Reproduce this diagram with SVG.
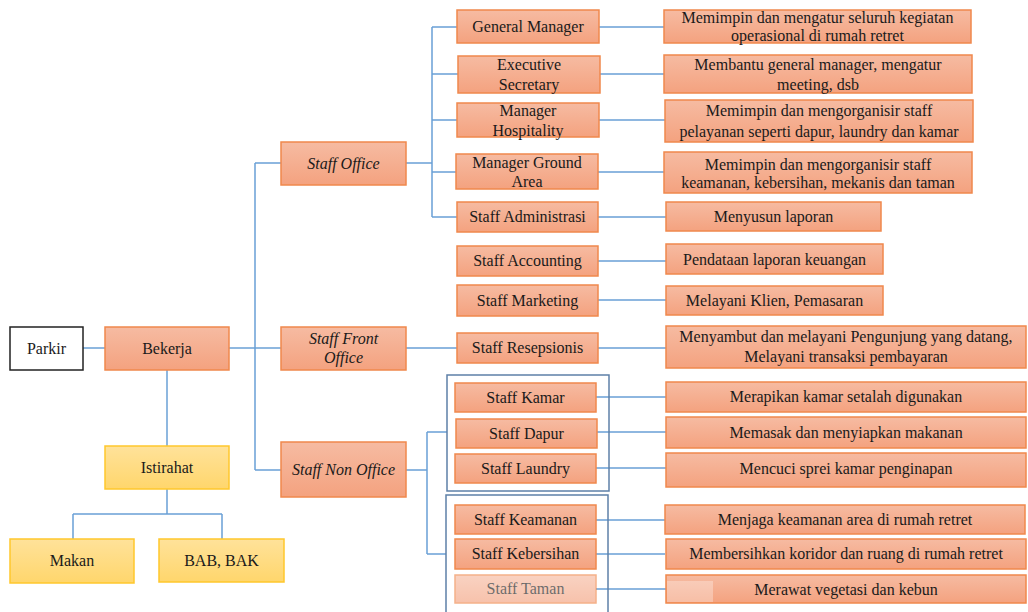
<svg xmlns="http://www.w3.org/2000/svg" width="1028" height="612" viewBox="0 0 1028 612" font-family="Liberation Serif, DejaVu Serif, Times New Roman, serif">
  <defs>
    <linearGradient id="gOrange" x1="0" y1="0" x2="0" y2="1">
      <stop offset="0" stop-color="#F6BBA2"/>
      <stop offset="1" stop-color="#F4A27F"/>
    </linearGradient>
    <linearGradient id="gYellow" x1="0" y1="0" x2="0" y2="1">
      <stop offset="0" stop-color="#FFE29A"/>
      <stop offset="1" stop-color="#FFD66C"/>
    </linearGradient>
    <style>
      .box { fill: url(#gOrange); stroke: #F0884C; stroke-width: 1.5; }
      .ybox { fill: url(#gYellow); stroke: #FFC72C; stroke-width: 1.5; }
      .wbox { fill: #FFFFFF; stroke: #222222; stroke-width: 1.5; }
      .grp { fill: none; stroke: #5E80A8; stroke-width: 1.5; }
      .t { font-size: 16px; fill: #1A1A1A; text-anchor: middle; }
      .i { font-style: italic; }
      .conn path { fill: none; stroke: #6AA0D6; stroke-width: 1.5; }
    </style>
  </defs>
  <rect width="1028" height="612" fill="#FFFFFF"/>

  <!-- connectors -->
  <g id="connectors" class="conn">
    <path d="M83 348 H105"/>
    <path d="M229 348 H281"/>
    <path d="M255 163 V470 M255 163 H281 M255 470 H281"/>
    <path d="M167 370 V446"/>
    <path d="M167 489 V514 M73 514 H222 M73 514 V539 M222 514 V539"/>
    <path d="M406 163 H432 M432 27 V217 M432 27 H457 M432 74 H458 M432 120 H457 M432 172 H456 M432 217 H457"/>
    <path d="M599 27 H664 M600 74 H664 M599 120 H665 M598 172 H664 M598 217 H666"/>
    <path d="M598 261 H666 M598 300 H666 M406 348 H457 M598 348 H666"/>
    <path d="M406 470 H427 M427 432 V554 M427 432 H447 M427 554 H446"/>
    <path d="M596 397 H666 M597 432 H666 M596 468 H666 M596 520 H665 M596 554 H665 M596 589 H666"/>
  </g>

  <!-- grouping frames -->
  <g id="group-service">
    <rect class="grp" x="447" y="375" width="162" height="116"/>
  </g>
  <g id="group-ground">
    <rect class="grp" x="446" y="495" width="162" height="125"/>
  </g>

  <!-- left side -->
  <g id="parkir">
    <rect class="wbox" x="10" y="327" width="73" height="43"/>
    <text class="t" x="46.5" y="354">Parkir</text>
  </g>
  <g id="bekerja">
    <rect class="box" x="105" y="327" width="124" height="43"/>
    <text class="t" x="167" y="354">Bekerja</text>
  </g>
  <g id="istirahat">
    <rect class="ybox" x="105" y="446" width="124" height="43"/>
    <text class="t" x="167" y="473">Istirahat</text>
  </g>
  <g id="makan">
    <rect class="ybox" x="10" y="539" width="124" height="44"/>
    <text class="t" x="72" y="566">Makan</text>
  </g>
  <g id="bab-bak">
    <rect class="ybox" x="159" y="539" width="125" height="43"/>
    <text class="t" x="221.5" y="566">BAB, BAK</text>
  </g>

  <!-- staff categories -->
  <g id="staff-office">
    <rect class="box" x="281" y="142" width="125" height="43"/>
    <text class="t i" x="343.5" y="169">Staff Office</text>
  </g>
  <g id="staff-front-office">
    <rect class="box" x="281" y="327" width="125" height="43"/>
    <text class="t i" x="343.5" y="344">Staff Front</text>
    <text class="t i" x="343.5" y="363">Office</text>
  </g>
  <g id="staff-non-office">
    <rect class="box" x="281" y="442" width="125" height="55"/>
    <text class="t i" x="343.5" y="475">Staff Non Office</text>
  </g>

  <!-- positions -->
  <g id="general-manager">
    <rect class="box" x="457" y="10" width="142" height="33"/>
    <text class="t" x="528" y="32">General Manager</text>
  </g>
  <g id="executive-secretary">
    <rect class="box" x="458" y="56" width="142" height="37"/>
    <text class="t" x="529" y="70">Executive</text>
    <text class="t" x="529" y="90">Secretary</text>
  </g>
  <g id="manager-hospitality">
    <rect class="box" x="457" y="103" width="142" height="34"/>
    <text class="t" x="528" y="116">Manager</text>
    <text class="t" x="528" y="136">Hospitality</text>
  </g>
  <g id="manager-ground-area">
    <rect class="box" x="456" y="154" width="142" height="35"/>
    <text class="t" x="527" y="168">Manager Ground</text>
    <text class="t" x="527" y="187">Area</text>
  </g>
  <g id="staff-administrasi">
    <rect class="box" x="457" y="202" width="141" height="30"/>
    <text class="t" x="527.5" y="222">Staff Administrasi</text>
  </g>
  <g id="staff-accounting">
    <rect class="box" x="457" y="246" width="141" height="30"/>
    <text class="t" x="527.5" y="266">Staff Accounting</text>
  </g>
  <g id="staff-marketing">
    <rect class="box" x="457" y="285" width="141" height="31"/>
    <text class="t" x="527.5" y="306">Staff Marketing</text>
  </g>
  <g id="staff-resepsionis">
    <rect class="box" x="457" y="333" width="141" height="30"/>
    <text class="t" x="527.5" y="353">Staff Resepsionis</text>
  </g>
  <g id="staff-kamar">
    <rect class="box" x="455" y="383" width="141" height="29"/>
    <text class="t" x="525.5" y="403">Staff Kamar</text>
  </g>
  <g id="staff-dapur">
    <rect class="box" x="456" y="419" width="141" height="29"/>
    <text class="t" x="526.5" y="439">Staff Dapur</text>
  </g>
  <g id="staff-laundry">
    <rect class="box" x="455" y="454" width="141" height="29"/>
    <text class="t" x="525.5" y="474">Staff Laundry</text>
  </g>
  <g id="staff-keamanan">
    <rect class="box" x="455" y="505" width="141" height="29"/>
    <text class="t" x="525.5" y="525">Staff Keamanan</text>
  </g>
  <g id="staff-kebersihan">
    <rect class="box" x="455" y="539" width="141" height="30"/>
    <text class="t" x="525.5" y="559">Staff Kebersihan</text>
  </g>
  <g id="staff-taman" opacity="0.65">
    <rect class="box" x="455" y="575" width="141" height="28"/>
    <text class="t" x="525.5" y="594" fill="#555555">Staff Taman</text>
  </g>

  <!-- duties -->
  <g id="duty-gm">
    <rect class="box" x="664" y="10" width="307" height="33"/>
    <text class="t" x="817.5" y="23">Memimpin dan mengatur seluruh kegiatan</text>
    <text class="t" x="817.5" y="41">operasional di rumah retret</text>
  </g>
  <g id="duty-es">
    <rect class="box" x="664" y="55" width="308" height="38"/>
    <text class="t" x="818" y="70">Membantu general manager, mengatur</text>
    <text class="t" x="818" y="90">meeting, dsb</text>
  </g>
  <g id="duty-mh">
    <rect class="box" x="665" y="100" width="308" height="42"/>
    <text class="t" x="819" y="116">Memimpin dan mengorganisir staff</text>
    <text class="t" x="819" y="137">pelayanan seperti dapur, laundry dan kamar</text>
  </g>
  <g id="duty-mga">
    <rect class="box" x="664" y="152" width="308" height="41"/>
    <text class="t" x="818" y="170">Memimpin dan mengorganisir staff</text>
    <text class="t" x="818" y="188">keamanan, kebersihan, mekanis dan taman</text>
  </g>
  <g id="duty-admin">
    <rect class="box" x="666" y="202" width="215" height="29"/>
    <text class="t" x="773.5" y="222">Menyusun laporan</text>
  </g>
  <g id="duty-accounting">
    <rect class="box" x="666" y="244" width="217" height="30"/>
    <text class="t" x="774.5" y="265">Pendataan laporan keuangan</text>
  </g>
  <g id="duty-marketing">
    <rect class="box" x="666" y="286" width="217" height="29"/>
    <text class="t" x="774.5" y="306">Melayani Klien, Pemasaran</text>
  </g>
  <g id="duty-resepsionis">
    <rect class="box" x="666" y="326" width="360" height="42"/>
    <text class="t" x="846" y="342">Menyambut dan melayani Pengunjung yang datang,</text>
    <text class="t" x="846" y="362">Melayani transaksi pembayaran</text>
  </g>
  <g id="duty-kamar">
    <rect class="box" x="666" y="382" width="360" height="30"/>
    <text class="t" x="846" y="402">Merapikan kamar setalah digunakan</text>
  </g>
  <g id="duty-dapur">
    <rect class="box" x="666" y="417" width="360" height="31"/>
    <text class="t" x="846" y="438">Memasak dan menyiapkan makanan</text>
  </g>
  <g id="duty-laundry">
    <rect class="box" x="666" y="453" width="360" height="34"/>
    <text class="t" x="846" y="474">Mencuci sprei kamar penginapan</text>
  </g>
  <g id="duty-keamanan">
    <rect class="box" x="665" y="505" width="360" height="29"/>
    <text class="t" x="845" y="525">Menjaga keamanan area di rumah retret</text>
  </g>
  <g id="duty-kebersihan">
    <rect class="box" x="666" y="539" width="360" height="30"/>
    <text class="t" x="846" y="559">Membersihkan koridor dan ruang di rumah retret</text>
  </g>
  <g id="duty-taman">
    <rect class="box" x="666" y="575" width="360" height="28"/>
    <rect x="667" y="581" width="46" height="21" fill="#FFFFFF" opacity="0.3"/>
    <text class="t" x="846" y="595">Merawat vegetasi dan kebun</text>
  </g>
</svg>
